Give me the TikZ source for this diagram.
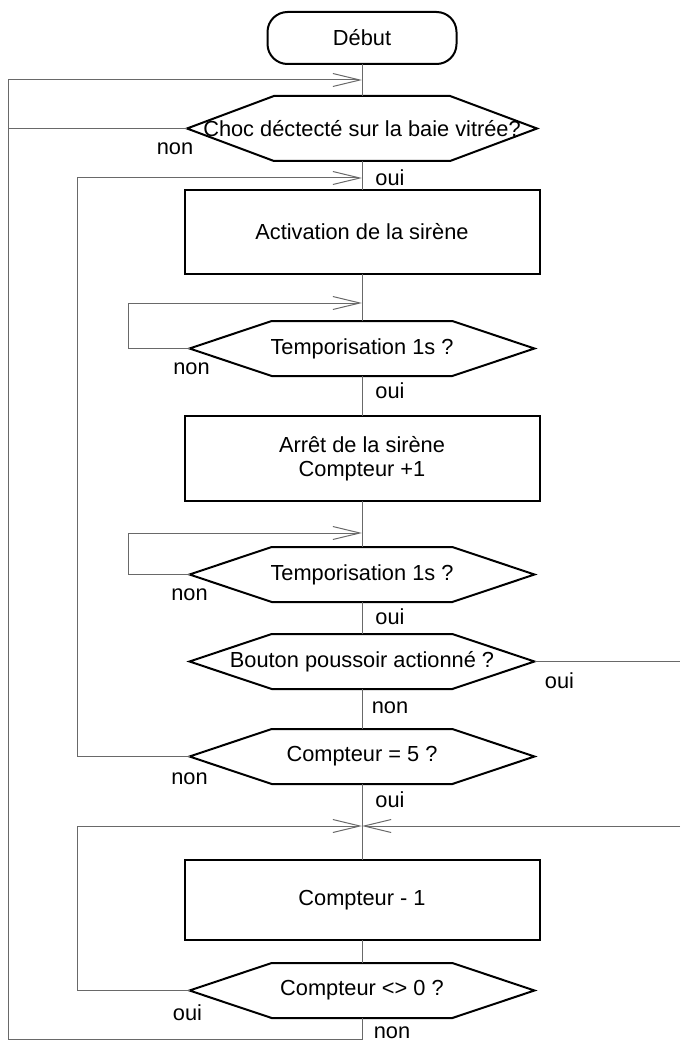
\documentclass[tikz,border=0pt]{standalone}
\usepackage{fontspec}
\setmainfont{Liberation Sans}
\usetikzlibrary{arrows.meta,positioning,shapes.symbols,calc}
\definecolor{linegray}{RGB}{105,105,105}
\tikzset{
  startstop/.style={rectangle, rounded corners=20pt, draw=black, line width=2pt, minimum width=189pt, minimum height=52pt, inner sep=0pt, outer sep=0pt},
  action/.style={rectangle, draw=black, line width=2pt, minimum width=355pt, minimum height=84pt, align=center, inner sep=0pt, outer sep=0pt},
  test/.style={signal, signal to=west and east, signal pointer angle=37, draw=black, line width=2pt, minimum width=345pt, minimum height=55pt, inner sep=0pt, outer sep=0pt},
  link/.style={draw=linegray, line width=1pt},
  arrow/.style={link, -{Straight Barb[length=27pt, width=13pt]}},
  answer/.style={inner sep=0pt}
}
\newcommand{\wide}[1]{\makebox[0pt]{#1}}
\begin{document}
\begin{tikzpicture}[x=1pt, y=-1pt, font=\fontsize{21.8}{24}\selectfont]
\useasboundingbox (0,0) rectangle (680,1043);
\node[startstop] (debut) at (362,38) {Début};
\node[test, signal pointer angle=41, minimum height=65pt, minimum width=350pt, below=32pt of debut] (q1) {\wide{Choc déctecté sur la baie vitrée?}};
\node[action, below=29pt of q1] (r1) {Activation de la sirène};
\node[test, below=47pt of r1] (q2) {\wide{Temporisation 1s ?}};
\node[action, minimum height=85pt, below=40pt of q2] (r2) {Arrêt de la sirène\\Compteur +1};
\node[test, below=46pt of r2] (q3) {\wide{Temporisation 1s ?}};
\node[test, below=32pt of q3] (q4) {\wide{Bouton poussoir actionné ?}};
\node[test, below=40pt of q4] (q5) {\wide{Compteur = 5 ?}};
\node[action, minimum height=80pt, below=76pt of q5] (r3) {Compteur - 1};
\node[test, below=23pt of r3] (q6) {\wide{Compteur <> 0 ?}};
% return lines
\coordinate (outer) at (8,0);
\coordinate (mid) at (77,0);
\coordinate (inner) at (128,0);
\coordinate (edge) at (680,0);
\coordinate[below=16pt of debut.south] (j1);
\coordinate[below=17pt of q1.south] (j2);
\coordinate[below=29pt of r1.south] (j3);
\coordinate[below=32pt of r2.south] (j4);
\coordinate[below=42pt of q5.south] (j5);
\coordinate[below=21pt of q6.south] (b0);
\foreach \a/\b in {debut/q1, q1/r1, r1/q2, q2/r2, r2/q3, q3/q4, q4/q5, q5/r3, r3/q6}
  \draw[link] (\a.south) -- (\b.north);
\draw[arrow] (q6.south) -- (b0) -- (b0 -| outer) |- (j1);
\draw[link] (q1.west) -- (q1.west -| outer);
\draw[arrow] (q5.west) -- (q5.west -| mid) |- (j2);
\draw[arrow] (q2.west) -- (q2.west -| inner) |- (j3);
\draw[arrow] (q3.west) -- (q3.west -| inner) |- (j4);
\draw[arrow] (q6.west) -- (q6.west -| mid) |- (j5);
\draw[arrow] (j5 -| edge) -- (j5);
\draw[link] (q4.east) -- (q4.east -| edge);
% answers
\node[answer] (n1) at ($(q1.west)+(-12,20)$) {non};
\node[answer] (o1) at ($(q1.south)+(28,17)$) {oui};
\node[answer] (n2) at ($(q2.west)+(2,20)$) {non};
\node[answer] (o2) at ($(q2.south)+(28,15)$) {oui};
\node[answer] (n3) at ($(q3.west)+(0,20)$) {non};
\node[answer] (o3) at ($(q3.south)+(28,15)$) {oui};
\node[answer] (o4) at ($(q4.east)+(25,19)$) {oui};
\node[answer] (n4) at ($(q4.south)+(28,19)$) {non};
\node[answer] (n5) at ($(q5.west)+(0,22)$) {non};
\node[answer] (o5) at ($(q5.south)+(28,16)$) {oui};
\node[answer] (o6) at ($(q6.west)+(-2,22)$) {oui};
\node[answer] (n6) at ($(q6.south)+(30,15)$) {non};
\end{tikzpicture}
\end{document}
